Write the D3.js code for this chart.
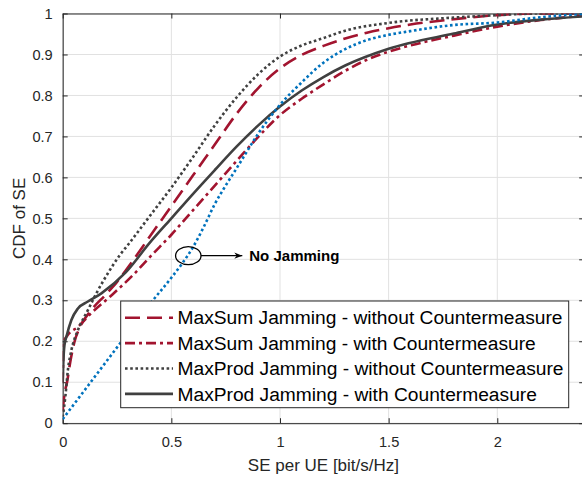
<!DOCTYPE html>
<html><head><meta charset="utf-8">
<script src="https://cdn.jsdelivr.net/npm/d3@7/dist/d3.min.js"></script>
<style>
body{margin:0;background:#fff}
svg{display:block}
text{font-family:"Liberation Sans",Arial,Helvetica,sans-serif}
</style>
</head><body>
<svg id="chart" width="582" height="478"></svg>
<script>
// ---------- data ----------
const xTickValues = [0, 0.5, 1, 1.5, 2];
const xTickLabels = ["0", "0.5", "1", "1.5", "2"];
const yTickValues = [0, 0.1, 0.2, 0.3, 0.4, 0.5, 0.6, 0.7, 0.8, 0.9, 1];
const yTickLabels = ["0", "0.1", "0.2", "0.3", "0.4", "0.5", "0.6", "0.7", "0.8", "0.9", "1"];
const legendLabels = [
  "MaxSum Jamming - without Countermeasure",
  "MaxSum Jamming - with Countermeasure",
  "MaxProd Jamming - without Countermeasure",
  "MaxProd Jamming - with Countermeasure"
];
const xLabel = "SE per UE [bit/s/Hz]";
const yLabel = "CDF of SE";
const annotationText = "No Jamming";

// MaxSum Jamming - without Countermeasure
const maxSumNoCmSE  = [0, 0.008, 0.02, 0.035, 0.055, 0.08, 0.13, 0.2, 0.25, 0.3, 0.4, 0.5, 0.6, 0.7, 0.8, 0.9, 1.0, 1.1, 1.2, 1.3, 1.4, 1.5, 1.6, 1.8, 2.0, 2.15, 2.4];
const maxSumNoCmCDF = [0.03, 0.07, 0.1, 0.15, 0.2, 0.235, 0.275, 0.315, 0.345, 0.38, 0.455, 0.53, 0.605, 0.68, 0.755, 0.818, 0.866, 0.899, 0.921, 0.939, 0.953, 0.964, 0.973, 0.986, 0.996, 1.0, 1.0];
// MaxSum Jamming - with Countermeasure
const maxSumCmSE  = [0, 0.002, 0.006, 0.02, 0.07, 0.13, 0.22, 0.33, 0.4, 0.5, 0.6, 0.7, 0.8, 0.9, 1.0, 1.1, 1.2, 1.3, 1.4, 1.5, 1.6, 1.8, 2.0, 2.2, 2.4];
const maxSumCmCDF = [0.1, 0.15, 0.2, 0.213, 0.235, 0.268, 0.31, 0.365, 0.405, 0.46, 0.52, 0.58, 0.64, 0.699, 0.752, 0.792, 0.827, 0.86, 0.887, 0.907, 0.922, 0.946, 0.968, 0.984, 0.995];
// MaxProd Jamming - without Countermeasure
const maxProdNoCmSE  = [0, 0.012, 0.024, 0.04, 0.07, 0.116, 0.155, 0.208, 0.264, 0.3, 0.4, 0.5, 0.6, 0.7, 0.8, 0.9, 1.0, 1.1, 1.2, 1.3, 1.5, 1.8, 2.0, 2.2, 2.4];
const maxProdNoCmCDF = [0.015, 0.064, 0.13, 0.178, 0.227, 0.276, 0.317, 0.366, 0.411, 0.435, 0.505, 0.575, 0.65, 0.727, 0.795, 0.852, 0.895, 0.922, 0.94, 0.958, 0.977, 0.99, 0.996, 1.0, 1.0];
// MaxProd Jamming - with Countermeasure
const maxProdCmSE  = [0, 0.003, 0.008, 0.017, 0.04, 0.07, 0.116, 0.178, 0.29, 0.4, 0.5, 0.6, 0.7, 0.8, 0.9, 1.0, 1.1, 1.2, 1.3, 1.5, 1.8, 2.0, 2.2, 2.4];
const maxProdCmCDF = [0.1, 0.15, 0.19, 0.211, 0.252, 0.28, 0.297, 0.317, 0.368, 0.44, 0.5, 0.56, 0.618, 0.675, 0.727, 0.773, 0.812, 0.845, 0.873, 0.914, 0.951, 0.973, 0.985, 0.993];
// No Jamming
const noJamSE  = [0, 0.1, 0.2, 0.3, 0.4, 0.5, 0.55, 0.6, 0.65, 0.7, 0.75, 0.8, 0.85, 0.9, 0.95, 1.0, 1.1, 1.2, 1.3, 1.4, 1.5, 1.6, 1.8, 2.0, 2.2, 2.4];
const noJamCDF = [0.01, 0.08, 0.15, 0.22, 0.29, 0.355, 0.39, 0.43, 0.48, 0.535, 0.58, 0.622, 0.665, 0.707, 0.744, 0.777, 0.832, 0.88, 0.913, 0.935, 0.948, 0.957, 0.972, 0.978, 0.991, 0.999];

// ---------- styles ----------
const RED = "#A2142F", BLUE = "#0072BD", DARK = "#404040", AXIS = "#262626";
const series = [
  {name: legendLabels[0], x: maxSumNoCmSE, y: maxSumNoCmCDF, color: RED, dash: "15,7", legend: true},
  {name: legendLabels[1], x: maxSumCmSE, y: maxSumCmCDF, color: RED, dash: "10,4,3,4", legend: true},
  {name: legendLabels[2], x: maxProdNoCmSE, y: maxProdNoCmCDF, color: DARK, dash: "2.6,2.6", legend: true},
  {name: legendLabels[3], x: maxProdCmSE, y: maxProdCmCDF, color: DARK, dash: null, legend: true},
  {name: annotationText, x: noJamSE, y: noJamCDF, color: BLUE, dash: "2.6,2.6", legend: false}
];

// ---------- layout ----------
const svg = d3.select("#chart");
const L = 62.7, R = 584.2, T = 13.5, B = 423.2;
const x = d3.scaleLinear().domain([0, 2.4]).range([L, R]);
const y = d3.scaleLinear().domain([0, 1]).range([B, T]);

const defs = svg.append("defs");
defs.append("clipPath").attr("id", "clip").append("rect")
  .attr("x", L).attr("y", T).attr("width", R - L).attr("height", B - T);
defs.append("marker").attr("id", "arrow").attr("viewBox", "0 0 10 10")
  .attr("refX", 10).attr("refY", 5).attr("markerWidth", 10).attr("markerHeight", 8)
  .attr("markerUnits", "userSpaceOnUse").attr("orient", "auto")
  .append("path").attr("d", "M0,1 L10,5 L0,9 L3,5 Z").attr("fill", "#000");

// grid
const grid = svg.append("g");
grid.selectAll(".gx").data(xTickValues).join("line")
  .attr("x1", d => x(d)).attr("x2", d => x(d)).attr("y1", T).attr("y2", B)
  .attr("stroke", "#e1e1e1").attr("stroke-width", 1);
grid.selectAll(".gy").data(yTickValues).join("line")
  .attr("x1", L).attr("x2", R).attr("y1", d => y(d)).attr("y2", d => y(d))
  .attr("stroke", "#e1e1e1").attr("stroke-width", 1);

// axes (ticks inward, labels)
const fmtX = (d, i) => xTickLabels[i];
const fmtY = (d, i) => yTickLabels[i];
const axB = svg.append("g").attr("transform", `translate(0,${B})`)
  .call(d3.axisBottom(x).tickValues(xTickValues).tickFormat(fmtX).tickSizeInner(-5).tickSizeOuter(0).tickPadding(13));
const axT = svg.append("g").attr("transform", `translate(0,${T})`)
  .call(d3.axisTop(x).tickValues(xTickValues).tickFormat("").tickSizeInner(-5).tickSizeOuter(0));
const axL = svg.append("g").attr("transform", `translate(${L},0)`)
  .call(d3.axisLeft(y).tickValues(yTickValues).tickFormat(fmtY).tickSizeInner(-5).tickSizeOuter(0).tickPadding(10));
const axR = svg.append("g").attr("transform", `translate(${R},0)`)
  .call(d3.axisRight(y).tickValues(yTickValues).tickFormat("").tickSizeInner(-5).tickSizeOuter(0));
[axB, axT, axL, axR].forEach(g => {
  g.select(".domain").attr("stroke", AXIS).attr("stroke-width", 1);
  g.selectAll(".tick line").attr("stroke", AXIS).attr("stroke-width", 1);
  g.selectAll("text").attr("fill", AXIS).style("font-size", "14.6px")
    .style("font-family", '"Liberation Sans",Arial,sans-serif');
});
axB.selectAll("text").attr("dy", "0.71em");

// axis labels
svg.append("text").attr("x", (L + R) / 2).attr("y", 471).attr("text-anchor", "middle")
  .attr("fill", AXIS).style("font-size", "17px").text(xLabel);
svg.append("text").attr("transform", `translate(25,${(T + B) / 2}) rotate(-90)`)
  .attr("text-anchor", "middle").attr("fill", AXIS).style("font-size", "17px").text(yLabel);

// lines
const lineGen = d3.line().x(d => x(d[0])).y(d => y(d[1])).curve(d3.curveMonotoneX);
const plot = svg.append("g").attr("clip-path", "url(#clip)");
series.forEach((s, i) => {
  const pts = s.x.map((v, k) => [v, s.y[k]]);
  plot.append("path").datum(pts).attr("d", lineGen)
    .attr("fill", "none").attr("stroke", s.color).attr("stroke-width", 2.6)
    .attr("stroke-dasharray", s.dash).attr("stroke-linejoin", "round");
});

// annotation
const ax0 = 0.578, ay0 = 0.409;
svg.append("ellipse").attr("cx", x(ax0)).attr("cy", y(ay0)).attr("rx", 12.7).attr("ry", 9)
  .attr("fill", "none").attr("stroke", "#000").attr("stroke-width", 1.3);
svg.append("line").attr("x1", x(ax0) + 12.7).attr("y1", y(ay0)).attr("x2", x(ax0) + 54).attr("y2", y(ay0))
  .attr("stroke", "#000").attr("stroke-width", 1.2).attr("marker-end", "url(#arrow)");
svg.append("text").attr("x", x(ax0) + 61).attr("y", y(ay0)).attr("dy", "0.36em")
  .style("font-size", "15px").style("font-weight", "bold").attr("fill", "#000").text(annotationText);

// legend
const lg = svg.append("g");
const lgX = 120.7, lgY = 301, lgW = 448, lgH = 106.7;
lg.append("rect").attr("x", lgX).attr("y", lgY).attr("width", lgW).attr("height", lgH)
  .attr("fill", "#fff").attr("stroke", AXIS).attr("stroke-width", 1);
const legendItems = series.filter(s => s.legend);
legendItems.forEach((s, i) => {
  const cy = 317.7 + i * 25.4;
  lg.append("line").attr("x1", 125).attr("x2", 173).attr("y1", cy).attr("y2", cy)
    .attr("stroke", s.color).attr("stroke-width", 2.6).attr("stroke-dasharray", s.dash);
  lg.append("text").attr("x", 177.5).attr("y", cy).attr("dy", "0.35em")
    .attr("fill", "#000").style("font-size", "19.2px").text(s.name);
});
</script>
</body></html>
